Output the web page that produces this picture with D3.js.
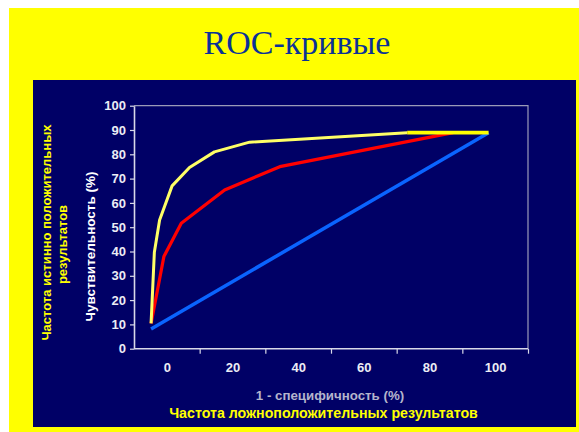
<!DOCTYPE html>
<html><head><meta charset="utf-8">
<script src="https://cdn.jsdelivr.net/npm/d3@7"></script>
<style>html,body{margin:0;padding:0;background:#fff;}svg{display:block;}</style>
</head><body>
<svg id="c" width="579" height="432"></svg>
<script>
const xTickLabels = [0, 20, 40, 60, 80, 100];
const xTickMarks = [10, 30, 50, 70, 90, 110];
const yTicks = [0, 10, 20, 30, 40, 50, 60, 70, 80, 90, 100];

const yellowX = [-4.8, -3.8, -2.2, 1.6, 6.9, 14.5, 25.2, 73.2];
const yellowY = [10.4, 39.7, 53, 67, 74.6, 81, 85, 88.9];
const yellowEndX = [73.2, 98];
const yellowEndY = [88.9, 88.9];
const redX = [-4.8, -0.9, 4.4, 17.6, 34.4, 87.2];
const redY = [10.4, 37.9, 51.6, 65.3, 74.9, 88.9];
const blueX = [-4.8, 98];
const blueY = [8.1, 88.9];

const svg = d3.select("#c");
svg.append("rect").attr("x", 9).attr("y", 8).attr("width", 570).attr("height", 424).attr("fill", "#ffff00");
svg.append("rect").attr("x", 33).attr("y", 80).attr("width", 543).attr("height", 347).attr("fill", "#000066");

svg.append("text").attr("x", 297).attr("y", 54).attr("text-anchor", "middle")
  .attr("font-family", "Liberation Serif, Times New Roman, serif").attr("font-size", 34)
  .attr("fill", "#0a3296").text("ROC-кривые");

const x = d3.scaleLinear().domain([-10, 110]).range([134, 528]);
const y = d3.scaleLinear().domain([0, 100]).range([348.7, 105.7]);

const font = "Liberation Sans, Arial, sans-serif";

// frame top/right
svg.append("path").attr("d", `M${x(-10)},${y(100)}H${x(110)}V${y(0)}`)
  .attr("fill", "none").attr("stroke", "#9a9ab8").attr("stroke-width", 1.2);

// y axis
const gy = svg.append("g").attr("transform", `translate(${x(-10)},0)`)
  .call(d3.axisLeft(y).tickValues(yTicks).tickSizeInner(4).tickSizeOuter(0).tickPadding(4));
// x axis marks
const gx = svg.append("g").attr("transform", `translate(0,${y(0)})`)
  .call(d3.axisBottom(x).tickValues(xTickMarks).tickSizeInner(5).tickSizeOuter(0).tickFormat(""));
const gxl = svg.append("g").attr("transform", `translate(0,${y(0)})`)
  .call(d3.axisBottom(x).tickValues(xTickLabels).tickSize(0).tickPadding(14).tickFormat(d3.format("d")));
gxl.select(".domain").remove();
[gy, gx].forEach(g => {
  g.select(".domain").attr("stroke", "#d8d8e8").attr("stroke-width", 1.6);
  g.selectAll(".tick line").attr("stroke", "#d8d8e8").attr("stroke-width", 1.2);
});
gx.select(".domain").attr("d", `M${x(-10)},0H${x(110)}`);
[gy, gxl].forEach(g => g.selectAll("text").attr("fill", "#ececf4")
  .attr("font-family", font).attr("font-weight", "bold").attr("font-size", 13));

const line = d3.line().x(d => x(d[0])).y(d => y(d[1]));
const pts = (xs, ys) => xs.map((v, i) => [v, ys[i]]);

svg.append("path").datum(pts(blueX, blueY)).attr("d", line)
  .attr("fill", "none").attr("stroke", "#0a64ff").attr("stroke-width", 3.5);
svg.append("path").datum(pts(redX, redY)).attr("d", line)
  .attr("fill", "none").attr("stroke", "#ff0000").attr("stroke-width", 3.2).attr("stroke-linejoin", "round");
svg.append("path").datum(pts(yellowX, yellowY)).attr("d", line)
  .attr("fill", "none").attr("stroke", "#ffff66").attr("stroke-width", 3).attr("stroke-linejoin", "round");
svg.append("path").datum(pts(yellowEndX, yellowEndY)).attr("d", line)
  .attr("fill", "none").attr("stroke", "#ffff00").attr("stroke-width", 3.8);

// axis titles
svg.append("text").attr("transform", "translate(95,246.5) rotate(-90)").attr("text-anchor", "middle")
  .attr("font-family", font).attr("font-weight", "bold").attr("font-size", 13.5).attr("fill", "#ffffff")
  .text("Чувствительность (%)");
svg.append("text").attr("transform", "translate(51,232.5) rotate(-90)").attr("text-anchor", "middle")
  .attr("font-family", font).attr("font-weight", "bold").attr("font-size", 13).attr("fill", "#ffff00")
  .text("Частота истинно положительных");
svg.append("text").attr("transform", "translate(67,244.5) rotate(-90)").attr("text-anchor", "middle")
  .attr("font-family", font).attr("font-weight", "bold").attr("font-size", 13).attr("fill", "#ffff00")
  .text("результатов");
svg.append("text").attr("x", 330).attr("y", 400).attr("text-anchor", "middle")
  .attr("font-family", font).attr("font-weight", "bold").attr("font-size", 13.3).attr("fill", "#b4b4cc")
  .text("1 - специфичность (%)");
svg.append("text").attr("x", 323.5).attr("y", 418).attr("text-anchor", "middle")
  .attr("font-family", font).attr("font-weight", "bold").attr("font-size", 14.2).attr("fill", "#ffff00")
  .text("Частота ложноположительных результатов");
</script>
</body></html>
